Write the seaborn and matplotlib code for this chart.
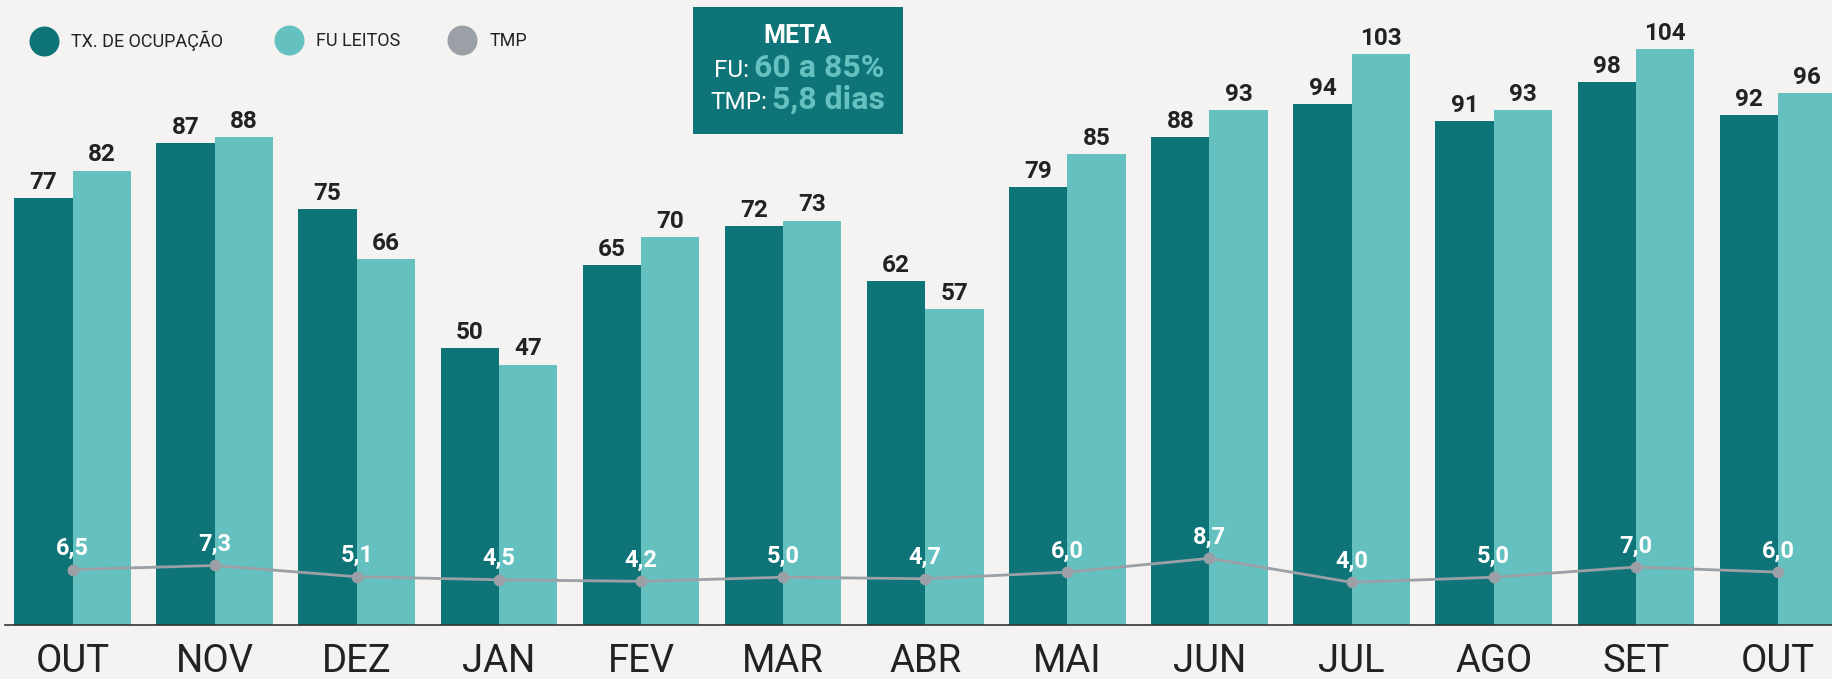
import numpy as np
import pandas as pd
import matplotlib
matplotlib.use("Agg")
import matplotlib.pyplot as plt
import seaborn as sns
from matplotlib.lines import Line2D
from matplotlib.patches import Rectangle

# dados
meses = ["OUT", "NOV", "DEZ", "JAN", "FEV", "MAR", "ABR", "MAI", "JUN", "JUL", "AGO", "SET", "OUT"]
tx_ocupacao = [77, 87, 75, 50, 65, 72, 62, 79, 88, 94, 91, 98, 92]
fu_leitos = [82, 88, 66, 47, 70, 73, 57, 85, 93, 103, 93, 104, 96]
tmp = [6.5, 7.3, 5.1, 4.5, 4.2, 5.0, 4.7, 6.0, 8.7, 4.0, 5.0, 7.0, 6.0]
series = ["TX. DE OCUPAÇÃO", "FU LEITOS", "TMP"]

ESCURO = "#0E7477"
CLARO = "#65C1C0"
CINZA = "#9AA0A6"
FUNDO = "#F4F3F1"
TEXTO = "#222222"

W, H = 1832, 679

sns.set_theme(style="white")
plt.rcParams["font.family"] = ["Roboto", "DejaVu Sans"]

idx = list(range(len(meses)))
df = pd.DataFrame({
    "idx": idx * 2,
    "valor": tx_ocupacao + fu_leitos,
    "serie": [series[0]] * len(idx) + [series[1]] * len(idx),
})
df_tmp = pd.DataFrame({"idx": idx, "tmp": tmp})

fig = plt.figure(figsize=(W / 100, H / 100), dpi=100, facecolor=FUNDO)
ax = fig.add_axes([5 / W, 54 / H, 1 - 5 / W, 625 / H])
ax.set_facecolor(FUNDO)

sns.barplot(data=df, x="idx", y="valor", hue="serie", order=idx,
            palette=[ESCURO, CLARO], width=0.82, saturation=1,
            edgecolor="none", linewidth=0, legend=False, ax=ax)

for cont in ax.containers:
    ax.bar_label(cont, fmt="%d", padding=3, fontsize=17.5,
                 fontweight="bold", color=TEXTO)

ax.set_ylim(0, 112.8)
ax.set_xlim(-0.475, 12.38)
ax.set_xticks(idx)
ax.set_xticklabels(meses, fontsize=27.5, color=TEXTO)
ax.tick_params(axis="x", length=0, pad=13)
ax.set_yticks([])
ax.set_xlabel("")
ax.set_ylabel("")
for s in ["top", "right", "left"]:
    ax.spines[s].set_visible(False)
ax.spines["bottom"].set_color("#333333")
ax.spines["bottom"].set_linewidth(1.2)

# TMP em eixo secundário
ax2 = ax.twinx()
sns.lineplot(data=df_tmp, x="idx", y="tmp", color=CINZA, linewidth=2,
             marker="o", markersize=8.5, markeredgewidth=0, ax=ax2)
ax2.set_ylim(-4.37, 118.2)
ax2.set_xlim(ax.get_xlim())
ax2.set_yticks([])
ax2.set_ylabel("")
ax2.set_xlabel("")
for s in ax2.spines.values():
    s.set_visible(False)
for i, v in zip(idx, tmp):
    ax2.annotate(f"{v:.1f}".replace(".", ","), (i, v), xytext=(0, 7),
                 textcoords="offset points", ha="center", va="bottom",
                 fontsize=17, fontweight="bold", color="white")

# legenda: uma entrada por vez, para controlar a posição de cada círculo
leg_x = [44, 289, 462]
for nome, cor, cx in zip(series, [ESCURO, CLARO, CINZA], leg_x):
    h = Line2D([], [], marker="o", linestyle="none", markersize=21.6,
               markerfacecolor=cor, markeredgewidth=0)
    fig.legend([h], [nome], loc="center left",
               bbox_to_anchor=((cx - 14.5) / W, 1 - 41 / H),
               frameon=False, fontsize=13, labelcolor=TEXTO,
               borderpad=0, borderaxespad=0, handlelength=1.6,
               handletextpad=0.72)

# caixa META
fig.patches.append(Rectangle((693 / W, 1 - 134 / H), 210 / W, 127 / H,
                             transform=fig.transFigure, facecolor=ESCURO,
                             edgecolor="none", zorder=5))
fig.text(798 / W, 1 - 43 / H, "META", ha="center", va="baseline",
         fontsize=18, fontweight="bold", color="white", zorder=6)
fig.text(749 / W, 1 - 77 / H, "FU:", ha="right", va="baseline",
         fontsize=17.5, color="white", zorder=6)
fig.text(754 / W, 1 - 77 / H, "60 a 85%", ha="left", va="baseline",
         fontsize=23, fontweight="bold", color=CLARO, zorder=6)
fig.text(767.5 / W, 1 - 109 / H, "TMP:", ha="right", va="baseline",
         fontsize=17.5, color="white", zorder=6)
fig.text(772.5 / W, 1 - 109 / H, "5,8 dias", ha="left", va="baseline",
         fontsize=23, fontweight="bold", color=CLARO, zorder=6)

fig.savefig("out.png", dpi=100, facecolor=FUNDO)
plt.close(fig)
